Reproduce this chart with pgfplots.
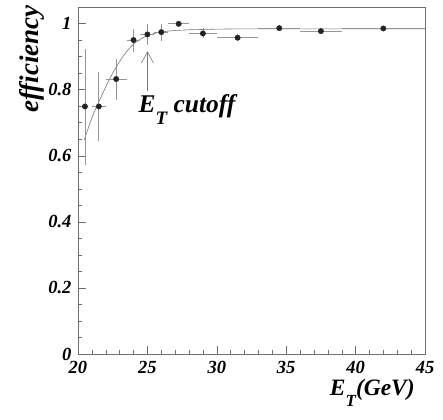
\documentclass[border=0pt]{standalone}
\usepackage{fontspec}
\setmainfont{Liberation Serif}
\usepackage{pgfplots}
\pgfplotsset{compat=1.18}
\usetikzlibrary{arrows.meta}
\definecolor{cFrame}{RGB}{110,110,110}
\definecolor{cErr}{RGB}{150,150,150}
\definecolor{cFit}{RGB}{120,120,120}
\definecolor{cPt}{RGB}{35,35,35}
\newcommand{\ET}[2]{E\raisebox{-#2}{\fontsize{#1}{#1}\selectfont T}}

\begin{document}
\begin{tikzpicture}
\path[use as bounding box] (-78pt,-65pt) rectangle (365pt,354pt);
\begin{axis}[
    at={(0pt,0pt)}, anchor=south west,
    scale only axis, width=347pt, height=347pt,
    xmin=20, xmax=45, ymin=0, ymax=1.05,
    xtick={20,25,30,35,40,45},
    ytick={0,0.2,0.4,0.6,0.8,1},
    minor x tick num=4, minor y tick num=3,
    tick pos=left,
    major tick length=8pt, minor tick length=4pt,
    axis line style={cFrame}, every tick/.style={cFrame},
    /pgf/number format/assume math mode=true,
    ticklabel style={font=\fontsize{18.5}{18.5}\selectfont\bfseries\itshape},
    yticklabel style={xshift=-3pt},
    xticklabel style={yshift=-4pt},
    xlabel={\ET{17}{0.45em}(GeV)},
    ylabel={efficiency},
    xlabel style={at={(axis description cs:0.971,-0.121)}, anchor=base east,
        inner sep=0pt, font=\fontsize{23.5}{23.5}\selectfont\bfseries\itshape},
    ylabel style={at={(axis description cs:-0.115,1.006)}, anchor=base east,
        inner sep=0pt, font=\fontsize{27}{27}\selectfont\bfseries\itshape},
]
% fitted turn-on curve
\addplot[cFit, line width=0.6pt, no marks] coordinates {
    (20.45,0.648)(20.75,0.685)(21.0,0.715)(21.25,0.740)(21.5,0.763)
    (21.75,0.786)(22.0,0.808)(22.25,0.830)(22.5,0.850)(22.75,0.868)
    (23.0,0.885)(23.25,0.901)(23.5,0.915)(23.75,0.927)(24.0,0.938)
    (24.5,0.953)(25.0,0.964)(25.5,0.970)(26.0,0.974)(26.5,0.977)
    (27.0,0.979)(28.0,0.981)(29.0,0.982)(30.0,0.983)(32.0,0.984)
    (35.0,0.984)(45.0,0.984)};
% measured efficiency
\addplot[only marks, mark=*, mark size=2.7pt, color=cPt,
    error bars/.cd, x dir=both, x explicit, y dir=both, y explicit,
    error bar style={cErr, line width=0.7pt}, error mark=none]
    table[x=x, y=y, x error minus=exm, x error plus=exp,
          y error minus=eym, y error plus=eyp] {
x      y      exm   exp   eym    eyp
20.5   0.749  0.25  0.25  0.176  0.175
21.5   0.749  0.5   0.5   0.103  0.104
22.75  0.832  0.75  0.75  0.062  0.062
24.0   0.950  0.5   0.5   0.037  0.033
25.0   0.967  0.5   0.5   0.033  0.033
26.0   0.974  0.5   0.5   0.027  0.026
27.25  0.999  0.75  0.75  0.005  0.005
29.0   0.970  1.0   1.0   0.015  0.015
31.5   0.957  1.5   1.5   0.010  0.010
34.5   0.986  1.5   1.5   0.005  0.005
37.5   0.977  1.5   1.5   0.005  0.005
42.0   0.985  3.0   3.0   0.005  0.005
};
\draw[cFit, line width=0.6pt, -{Straight Barb[length=11pt,width=12pt]}]
    (axis cs:25,0.795) -- (axis cs:25,0.916);
\node[anchor=base west, inner sep=0pt,
    font=\fontsize{25.5}{25.5}\selectfont\bfseries\itshape]
    at (axis cs:24.35,0.731) {\ET{19}{0.47em} cutoff};
\end{axis}
\end{tikzpicture}
\end{document}
